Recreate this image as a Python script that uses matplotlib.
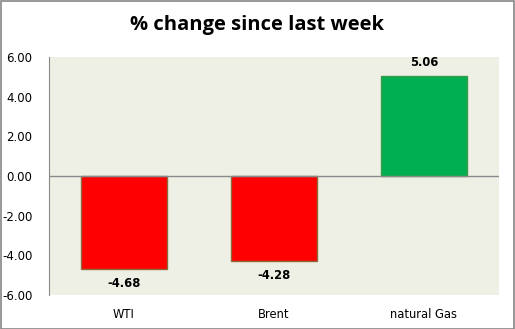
import matplotlib.pyplot as plt
from matplotlib.patches import Rectangle

categories = ["WTI", "Brent", "natural Gas"]
changes = [-4.68, -4.28, 5.06]
bar_colors = ["#FF0000", "#FF0000", "#00B050"]
edge_colors = ["#8C6A3C", "#8C6A3C", "#3A9A4A"]
yticks = [-6, -4, -2, 0, 2, 4, 6]

plt.rcParams["font.family"] = ["Open Sans", "DejaVu Sans"]

fig = plt.figure(figsize=(5.15, 3.29), dpi=100)
ax = fig.add_axes([49 / 515, 1 - 295 / 329, 450 / 515, 238 / 329])
ax.set_facecolor("#EEF0E6")

x = range(len(categories))
ax.bar(x, changes, width=0.573, color=bar_colors, edgecolor=edge_colors, linewidth=1)
ax.axhline(0, color="#8A8A8A", linewidth=1, zorder=3)

for xi, v in zip(x, changes):
    off = 0.35 if v > 0 else -0.4
    ax.text(xi, v + off, f"{v:.2f}", ha="center", va="bottom" if v > 0 else "top",
            fontsize=8.3, fontweight="bold", family=["DejaVu Sans"])

ax.set_xlim(-0.5, 2.5)
ax.set_ylim(-6, 6)
ax.set_yticks(yticks)
ax.set_yticklabels([f"{t:.2f}" for t in yticks], fontsize=8.5, family=["DejaVu Sans"])
ax.set_xticks(list(x))
ax.set_xticklabels(categories, fontsize=8.3, family=["DejaVu Sans"])
ax.tick_params(axis="both", length=0)
ax.tick_params(axis="x", pad=9)
ax.tick_params(axis="y", pad=12)

for side in ["top", "right", "bottom"]:
    ax.spines[side].set_visible(False)
ax.spines["left"].set_color("#8A8A8A")

fig.text(0.5, 1 - 25 / 329, "% change since last week", ha="center", va="center",
         fontsize=14.5, fontweight="bold")

fig.patches.append(Rectangle((0.5 / 515, 0.5 / 329), 513.5 / 515, 327.5 / 329,
                             transform=fig.transFigure, fill=False,
                             edgecolor="#868686", linewidth=1.2))

fig.savefig("out.png", dpi=100)
